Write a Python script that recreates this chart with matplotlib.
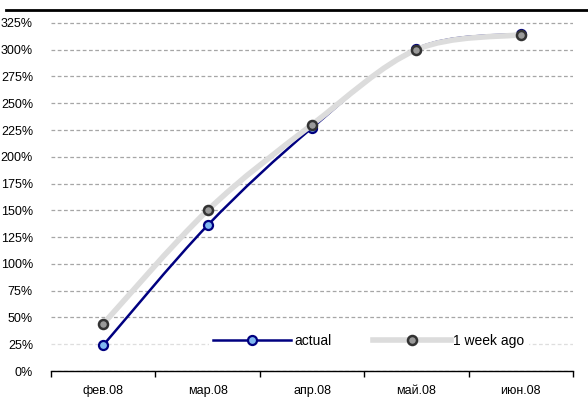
import matplotlib.pyplot as plt
from matplotlib.path import Path
from matplotlib.patches import PathPatch
from matplotlib.lines import Line2D
import numpy as np

plt.rcParams['font.family'] = ['Liberation Sans', 'DejaVu Sans']

months = ['фев.08', 'мар.08', 'апр.08', 'май.08', 'июн.08']
actual = [24, 136, 227, 301, 315]
week_ago = [44, 150, 230, 300, 314]
y_ticks = [0, 25, 50, 75, 100, 125, 150, 175, 200, 225, 250, 275, 300, 325]


def smooth_path(xs, ys):
    # Excel-style smoothed line: cubic Bezier through the points
    pts = np.column_stack([xs, ys]).astype(float)
    verts = [pts[0]]
    codes = [Path.MOVETO]
    n = len(pts)
    for i in range(n - 1):
        p0 = pts[max(i - 1, 0)]
        p1 = pts[i]
        p2 = pts[i + 1]
        p3 = pts[min(i + 2, n - 1)]
        c1 = p1 + (p2 - p0) / 6
        c2 = p2 - (p3 - p1) / 6
        verts += [c1, c2, p2]
        codes += [Path.CURVE4] * 3
    return Path(verts, codes)


fig = plt.figure(figsize=(5.88, 4.03), dpi=100)
ax = fig.add_axes([51 / 588, 1 - 371 / 403, 522 / 588, 362 / 403])

x = np.arange(len(months))

ax.add_patch(PathPatch(smooth_path(x, actual), fill=False, edgecolor='#000080',
                       lw=1.8, zorder=2))
ax.plot(x, actual, ls='none', marker='o', ms=6.5, mfc='#80b8f0', mec='#000080',
        mew=1.6, zorder=3)
ax.add_patch(PathPatch(smooth_path(x, week_ago), fill=False, edgecolor='#dcdcdc',
                       lw=4, capstyle='butt', zorder=4))
ax.plot(x, week_ago, ls='none', marker='o', ms=6.5, mfc='#9a9a9a', mec='#333333',
        mew=1.8, zorder=5)

ax.set_xlim(-0.5, len(months) - 0.5)
ax.set_ylim(0, 338)
ax.set_yticks(y_ticks)
ax.set_yticklabels([f'{v}%' for v in y_ticks])
ax.set_xticks(x)
ax.set_xticklabels(months)
ax.set_xticks(np.arange(len(months) + 1) - 0.5, minor=True)
ax.tick_params(axis='x', which='major', length=0, pad=10, labelsize=9)
ax.tick_params(axis='x', which='minor', length=4, width=1, direction='out')
ax.tick_params(axis='y', length=0, pad=13, labelsize=9)

ax.yaxis.grid(True, color='#a6a6a6', ls=(0, (3, 2)), lw=0.9)
ax.get_ygridlines()[1].set_color('#dedede')
ax.set_axisbelow(True)
for s in ['left', 'right', 'top']:
    ax.spines[s].set_visible(False)
ax.spines['bottom'].set_linewidth(1)

fig.add_artist(Line2D([6 / 588, 1], [1 - 9.5 / 403] * 2, color='black', lw=2))

handles = [
    Line2D([], [], color='#000080', lw=1.8, marker='o', ms=6.5, mfc='#80b8f0',
           mec='#000080', mew=1.6),
    Line2D([], [], color='#dcdcdc', lw=4, marker='o', ms=6.5, mfc='#9a9a9a',
           mec='#333333', mew=1.8),
]
leg = fig.legend(handles, ['actual', '1 week ago'], loc='center',
                 bbox_to_anchor=(369 / 588, 1 - 341 / 403), ncol=2, fontsize=10,
                 frameon=True, framealpha=1, edgecolor='white', fancybox=False,
                 handlelength=5.6, handletextpad=0.2, columnspacing=3.0,
                 borderpad=0.3)
leg.get_frame().set_linewidth(0)

fig.savefig('out.png', dpi=100)
